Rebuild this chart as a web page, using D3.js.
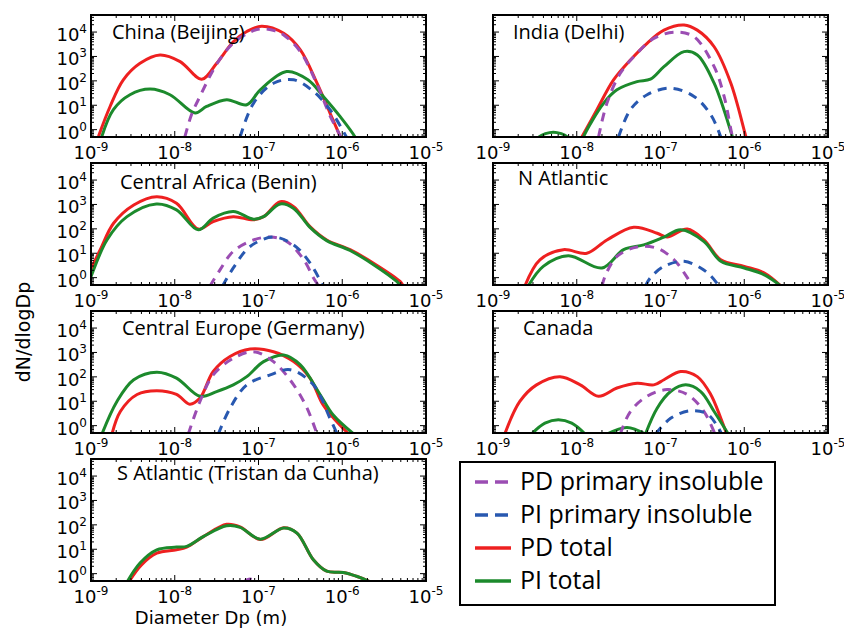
<!DOCTYPE html>
<html>
<head>
<meta charset="utf-8">
<script src="https://cdn.jsdelivr.net/npm/d3@7"></script>
<style>
  body { margin: 0; background: #fff; }
  text { fill: #000; }
</style>
</head>
<body>
<svg id="chart" width="844" height="628"></svg>
<script>
// series are [diameter (m), dN/dlogDp]; null splits a line
const chinaPdTotal = [[1.23e-9, 0.54], [1.69e-9, 8.9], [2.43e-9, 110], [3.85e-9, 525], [6.67e-9, 1150], [1.16e-8, 615], [2.10e-8, 117], [3.17e-8, 525], [5.0e-8, 4000], [7.24e-8, 10500], [1.09e-7, 17400], [2.0e-7, 8900], [3.16e-7, 1850], [5.0e-7, 80], [7.14e-7, 4.8], [9.4e-7, 0.54], [1.0e-6, 0.3]]
const chinaPiTotal = [[1.34e-9, 0.5], [1.85e-9, 6.6], [2.92e-9, 27], [5.07e-9, 46], [8.77e-9, 27], [1.75e-8, 4.8], [2.40e-8, 8.9], [4.17e-8, 17], [7.24e-8, 10.5], [1.05e-7, 43], [2.17e-7, 240], [3.89e-7, 110], [5.94e-7, 23], [9.40e-7, 3.5], [1.42e-6, 0.5], [1.5e-6, 0.3]]
const chinaPdInsol = [[1.32e-8, 0.5], [1.58e-8, 4], [2.0e-8, 23], [3.16e-8, 480], [5.0e-8, 3550], [7.94e-8, 10000], [1.07e-7, 13500], [1.58e-7, 11200], [2.0e-7, 7600], [3.16e-7, 1580], [5.0e-7, 71], [7.08e-7, 4], [9.55e-7, 0.5], [1.0e-6, 0.3]]
const chinaPiInsol = [[6.03e-8, 0.5], [8.71e-8, 12], [1.51e-7, 80], [2.63e-7, 110], [4.52e-7, 37], [7.14e-7, 6.6], [1.12e-6, 0.5], [1.2e-6, 0.3]]

const indiaPdTotal = [[1.15e-8, 0.5], [1.74e-8, 6.6], [2.75e-8, 110], [4.37e-8, 720], [6.92e-8, 3470], [1.10e-7, 12000], [1.91e-7, 19500], [2.75e-7, 12000], [4.37e-7, 2500], [6.92e-7, 80], [1.05e-6, 0.5], [1.1e-6, 0.3]]
const indiaPiTotal = [[3.3e-9, 0.3], [3.55e-9, 0.5], [5.25e-9, 0.79], [7.76e-9, 0.5], [8.2e-9, 0.3], null,
  [1.15e-8, 0.3], [1.20e-8, 0.5], [2.09e-8, 12], [3.02e-8, 43], [5.25e-8, 93], [7.59e-8, 117], [1.10e-7, 380], [1.91e-7, 1580], [2.75e-7, 1150], [4.37e-7, 80], [7.24e-7, 0.5], [7.6e-7, 0.3]]
const indiaPdInsol = [[1.82e-8, 0.5], [2.29e-8, 12], [3.31e-8, 204], [5.25e-8, 1350], [8.32e-8, 5500], [1.45e-7, 9800], [2.51e-7, 6460], [4.37e-7, 380], [5.75e-7, 23], [7.24e-7, 0.5], [7.6e-7, 0.3]]
const indiaPiInsol = [[3.16e-8, 0.5], [4.37e-8, 6.6], [6.92e-8, 27], [1.32e-7, 50], [2.51e-7, 23], [3.98e-7, 4.1], [5.25e-7, 0.5], [5.5e-7, 0.3]]

const beninPdTotal = [[9.0e-10, 0.8], [1.0e-9, 2.2], [1.29e-9, 14], [1.86e-9, 170], [3.24e-9, 955], [6.08e-9, 2090], [1.05e-8, 1120], [1.91e-8, 98], [2.88e-8, 200], [5.0e-8, 316], [8.71e-8, 234], [1.15e-7, 316], [1.82e-7, 1290], [2.63e-7, 810], [4.12e-7, 123], [6.52e-7, 35], [1.24e-6, 14], [2.34e-6, 4], [4.9e-6, 0.7], [5.37e-6, 0.45]]
const beninPiTotal = [[9.0e-10, 0.4], [1.0e-9, 1.1], [1.55e-9, 35], [2.69e-9, 316], [6.03e-9, 1050], [1.05e-8, 600], [1.91e-8, 91], [2.88e-8, 275], [5.0e-8, 510], [8.71e-8, 250], [1.15e-7, 316], [1.82e-7, 1050], [2.63e-7, 690], [4.12e-7, 115], [6.52e-7, 33], [1.24e-6, 13], [2.34e-6, 3.5], [4.47e-6, 0.7], [5.0e-6, 0.45]]
const beninPdInsol = [[2.63e-8, 0.45], [3.47e-8, 2.1], [5.0e-8, 12], [8.71e-8, 35], [1.38e-7, 46], [2.19e-7, 30], [3.47e-7, 5.4], [4.52e-7, 1.0], [5.25e-7, 0.45]]
const beninPiInsol = [[3.72e-8, 0.45], [5.0e-8, 2.5], [7.94e-8, 19], [1.51e-7, 46], [2.63e-7, 22], [4.12e-7, 4], [5.89e-7, 0.45]]

const natlPdTotal = [[2.40e-9, 0.45], [3.63e-9, 5.4], [6.92e-9, 14], [1.32e-8, 10], [2.29e-8, 35], [4.79e-8, 117], [9.12e-8, 66], [1.20e-7, 46], [2.09e-7, 98], [3.31e-7, 35], [5.25e-7, 5.4], [1.0e-6, 2.9], [1.74e-6, 1.55], [2.75e-6, 0.45]]
const natlPiTotal = [[2.63e-9, 0.45], [3.98e-9, 2.9], [7.94e-9, 7.9], [2.0e-8, 2.5], [3.63e-8, 14], [6.31e-8, 22], [1.10e-7, 46], [1.74e-7, 91], [3.31e-7, 30], [5.25e-7, 4.7], [1.0e-6, 2.5], [1.74e-6, 1.3], [2.75e-6, 0.45]]
const natlPdInsol = [[2.0e-8, 0.45], [2.19e-8, 1.2], [3.02e-8, 7.4], [5.25e-8, 18], [9.12e-8, 16], [1.45e-7, 5.4], [2.09e-7, 1.0], [2.40e-7, 0.45]]
const natlPiInsol = [[6.61e-8, 0.45], [7.59e-8, 1.0], [1.10e-7, 2.9], [1.91e-7, 4.7], [3.02e-7, 2.5], [3.98e-7, 1.2], [5.0e-7, 0.45]]

const germanyPdTotal = [[1.78e-9, 0.45], [2.24e-9, 3.8], [3.55e-9, 19], [6.10e-9, 27], [1.05e-8, 19], [1.51e-8, 7.6], [2.0e-8, 13.5], [2.88e-8, 166], [4.57e-8, 680], [7.94e-8, 1380], [1.51e-7, 1070], [2.63e-7, 420], [4.12e-7, 89], [5.89e-7, 7.2], [8.51e-7, 1.5], [1.20e-6, 0.45]]
const germanyPiTotal = [[1.35e-9, 0.45], [2.04e-9, 9.8], [3.24e-9, 76], [6.10e-9, 155], [1.05e-8, 89], [2.0e-8, 16], [3.16e-8, 25], [5.0e-8, 47], [7.24e-8, 102], [1.15e-7, 420], [2.0e-7, 790], [3.16e-7, 310], [5.43e-7, 19], [7.76e-7, 2.8], [1.38e-6, 0.45]]
const germanyPdInsol = [[1.45e-8, 0.45], [2.0e-8, 9.8], [2.88e-8, 120], [5.0e-8, 575], [8.71e-8, 1070], [1.51e-7, 420], [2.63e-7, 47], [3.80e-7, 5.2], [5.0e-7, 0.45]]
const germanyPiInsol = [[3.31e-8, 0.45], [4.57e-8, 5.2], [7.24e-8, 47], [1.38e-7, 120], [2.40e-7, 195], [4.52e-7, 47], [7.14e-7, 2.0], [8.71e-7, 0.45]]

const canadaPdTotal = [[1.38e-9, 0.45], [2.09e-9, 9.8], [3.31e-9, 47], [6.31e-9, 102], [1.10e-8, 47], [1.82e-8, 16], [3.02e-8, 35], [5.25e-8, 55], [8.32e-8, 47], [1.10e-7, 76], [1.74e-7, 166], [2.75e-7, 102], [3.98e-7, 19], [5.25e-7, 2.0], [6.17e-7, 0.45]]
const canadaPiTotal = [[2.88e-9, 0.45], [4.17e-9, 1.26], [6.03e-9, 1.74], [8.71e-9, 1.26], [1.26e-8, 0.45], null,
  [2.29e-8, 0.45], [3.98e-8, 0.85], [6.61e-8, 0.45], null,
  [6.61e-8, 0.45], [9.12e-8, 5.2], [1.32e-7, 25], [2.0e-7, 47], [3.02e-7, 25], [4.37e-7, 3.8], [6.46e-7, 0.45]]
const canadaPdInsol = [[3.31e-8, 0.45], [4.37e-8, 3.8], [6.92e-8, 16], [1.20e-7, 30], [2.09e-7, 19], [3.31e-7, 3.8], [4.47e-7, 0.45]]
const canadaPiInsol = [[8.71e-8, 0.45], [1.32e-7, 2.0], [2.29e-7, 4.1], [3.63e-7, 3.0], [4.79e-7, 0.93], [5.37e-7, 0.45]]

const satlPdTotal = [[2.82e-9, 0.45], [3.98e-9, 2.24], [6.10e-9, 6.9], [1.05e-8, 9.5], [1.39e-8, 12.3], [2.19e-8, 33], [4.17e-8, 105], [6.03e-8, 83], [1.05e-7, 25], [2.0e-7, 76], [2.88e-7, 46], [4.52e-7, 3.7], [6.52e-7, 1.26], [1.03e-6, 1.12], [1.48e-6, 0.78], [2.19e-6, 0.45]]
const satlPiTotal = [[2.69e-9, 0.45], [3.85e-9, 2.75], [6.10e-9, 9.5], [1.05e-8, 12.3], [1.39e-8, 13.2], [2.19e-8, 33], [4.17e-8, 91], [6.03e-8, 79], [1.05e-7, 26], [2.0e-7, 74], [2.88e-7, 46], [4.52e-7, 3.7], [6.52e-7, 1.26], [1.03e-6, 1.12], [1.48e-6, 0.78], [2.19e-6, 0.45]]
const satlPdInsol = [[6.61e-8, 0.45], [7.94e-8, 0.6], [9.55e-8, 0.45]]
const satlPiInsol = []

const regions = ['China (Beijing)', 'India (Delhi)', 'Central Africa (Benin)', 'N Atlantic',
  'Central Europe (Germany)', 'Canada', 'S Atlantic (Tristan da Cunha)']
const seriesNames = ['PD primary insoluble', 'PI primary insoluble', 'PD total', 'PI total']
const xTicks = [1e-9, 1e-8, 1e-7, 1e-6, 1e-5]
const yTicks = [1, 10, 100, 1000, 10000]

const panelData = [
  [chinaPdInsol, chinaPiInsol, chinaPdTotal, chinaPiTotal],
  [indiaPdInsol, indiaPiInsol, indiaPdTotal, indiaPiTotal],
  [beninPdInsol, beninPiInsol, beninPdTotal, beninPiTotal],
  [natlPdInsol, natlPiInsol, natlPdTotal, natlPiTotal],
  [germanyPdInsol, germanyPiInsol, germanyPdTotal, germanyPiTotal],
  [canadaPdInsol, canadaPiInsol, canadaPdTotal, canadaPiTotal],
  [satlPdInsol, satlPiInsol, satlPdTotal, satlPiTotal]
]

const colors = ['#9b4db3', '#2858b0', '#ee2020', '#1c8a2c']
const dashes = ['9,7', '9,7', null, null]
const drawOrder = [2, 3, 0, 1]

const W = 335
const H = 122
const colX = [91, 493]
const rowY = [15, 163, 311, 459]
const titleX = [21, 20, 29, 25, 31, 30, 26]
const titleY = [24, 24, 26, 22, 24, 24, 21]

const svg = d3.select('#chart')

const x = d3.scaleLog().domain([1e-9, 1e-5]).range([0, W])
const y = d3.scaleLog().domain([0.5, 5e4]).range([H, 0])

const line = d3.line()
  .defined(d => d !== null)
  .x(d => x(d[0]))
  .y(d => y(d[1]))
  .curve(d3.curveCatmullRom.alpha(0.5))

svg.append('defs').append('clipPath').attr('id', 'plotclip')
  .append('rect').attr('width', W).attr('height', H)

const minorX = []
for (let e = -9; e < -5; e++) {
  for (let m = 2; m <= 9; m++) minorX.push(m * Math.pow(10, e))
}
const minorY = []
for (let e = -1; e <= 4; e++) {
  for (let m = 1; m <= 9; m++) {
    const v = m * Math.pow(10, e)
    if (m > 1 && v > 0.5 && v < 5e4) minorY.push(v)
  }
}

const sup = (sel, exp) => {
  sel.append('tspan').text('10')
  sel.append('tspan').attr('font-size', 12).attr('dy', -8).text(exp)
}

regions.forEach((name, i) => {
  const col = i % 2
  const row = Math.floor(i / 2)
  const g = svg.append('g').attr('transform', `translate(${colX[col]},${rowY[row]})`)

  const plot = g.append('g').attr('clip-path', 'url(#plotclip)')
  drawOrder.forEach(s => {
    const data = panelData[i][s]
    if (!data.length) return
    plot.append('path')
      .attr('d', line(data))
      .attr('fill', 'none')
      .attr('stroke', colors[s])
      .attr('stroke-width', 3)
      .attr('stroke-dasharray', dashes[s])
      .attr('stroke-linejoin', 'round')
  })

  // ticks inside on all four sides
  const ticks = g.append('g').attr('stroke', '#000').attr('stroke-width', 1)
  xTicks.forEach(t => {
    ticks.append('line').attr('x1', x(t)).attr('x2', x(t)).attr('y1', H).attr('y2', H - 6)
    ticks.append('line').attr('x1', x(t)).attr('x2', x(t)).attr('y1', 0).attr('y2', 6)
  })
  minorX.forEach(t => {
    ticks.append('line').attr('x1', x(t)).attr('x2', x(t)).attr('y1', H).attr('y2', H - 3)
    ticks.append('line').attr('x1', x(t)).attr('x2', x(t)).attr('y1', 0).attr('y2', 3)
  })
  yTicks.forEach(t => {
    ticks.append('line').attr('x1', 0).attr('x2', 6).attr('y1', y(t)).attr('y2', y(t))
    ticks.append('line').attr('x1', W).attr('x2', W - 6).attr('y1', y(t)).attr('y2', y(t))
  })
  minorY.forEach(t => {
    ticks.append('line').attr('x1', 0).attr('x2', 3).attr('y1', y(t)).attr('y2', y(t))
    ticks.append('line').attr('x1', W).attr('x2', W - 3).attr('y1', y(t)).attr('y2', y(t))
  })

  g.append('rect').attr('width', W).attr('height', H)
    .attr('fill', 'none').attr('stroke', '#000').attr('stroke-width', 2)

  g.append('text')
    .attr('x', titleX[i]).attr('y', titleY[i])
    .attr('font-family', 'Open Sans').attr('font-size', 20)
    .text(name)

  xTicks.forEach(t => {
    const lbl = g.append('text')
      .attr('x', x(t)).attr('y', H + 22)
      .attr('text-anchor', 'middle')
      .attr('font-family', 'DejaVu Sans').attr('font-size', 18)
    sup(lbl, String(Math.round(Math.log10(t))))
  })

  if (col === 0) {
    yTicks.forEach(t => {
      const lbl = g.append('text')
        .attr('x', -4).attr('y', y(t) + 9)
        .attr('text-anchor', 'end')
        .attr('font-family', 'DejaVu Sans').attr('font-size', 18)
      sup(lbl, String(Math.round(Math.log10(t))))
    })
  }
})

svg.append('text')
  .attr('transform', 'translate(30,332) rotate(-90)')
  .attr('text-anchor', 'middle')
  .attr('font-family', 'DejaVu Sans').attr('font-size', 19)
  .text('dN/dlogDp')

svg.append('text')
  .attr('x', 211).attr('y', 624)
  .attr('text-anchor', 'middle')
  .attr('font-family', 'DejaVu Sans').attr('font-size', 18)
  .text('Diameter Dp (m)')

// legend
const legend = svg.append('g').attr('transform', 'translate(460,462)')
legend.append('rect').attr('width', 315).attr('height', 143)
  .attr('fill', '#fff').attr('stroke', '#000').attr('stroke-width', 2)
seriesNames.forEach((name, s) => {
  const ly = 20 + s * 33
  legend.append('line')
    .attr('x1', 15).attr('x2', dashes[s] ? 48 : 51)
    .attr('y1', ly).attr('y2', ly)
    .attr('stroke', colors[s]).attr('stroke-width', 3.5)
    .attr('stroke-dasharray', dashes[s] ? '13,7' : null)
  legend.append('text')
    .attr('x', 60).attr('y', ly + 8)
    .attr('font-family', 'Open Sans').attr('font-size', 25)
    .text(name)
})
</script>
</body>
</html>
